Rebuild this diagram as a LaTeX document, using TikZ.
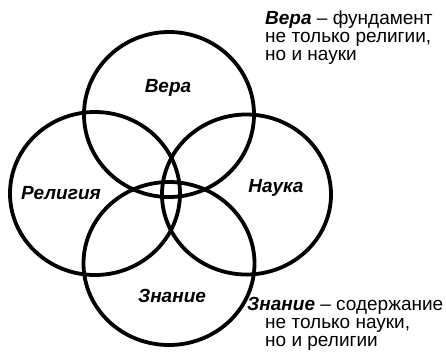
\documentclass[tikz,border=0pt]{standalone}
\usepackage{fontspec}
\setmainfont{Liberation Sans}
\begin{document}
\begin{tikzpicture}[x=1pt,y=-1pt,
  ring/.style={draw=black,line width=3.8pt},
  lbl/.style={font=\fontsize{19}{21}\selectfont\bfseries\itshape},
  note/.style={font=\fontsize{19}{20}\selectfont,anchor=base west,inner sep=0pt}]
\useasboundingbox (0,0) rectangle (446,351);
\draw[ring] (169,114.5) ellipse [x radius=85,y radius=82.5];
\draw[ring] (95,193.5) ellipse [x radius=85,y radius=81.5];
\draw[ring] (246.5,194.5) ellipse [x radius=84.5,y radius=80];
\draw[ring] (169,263.5) ellipse [x radius=85.5,y radius=81.5];
\node[lbl] (vera) at (168,88) {Вера};
\node[lbl] (rel) at (61,193) {Религия};
\node[lbl] (nauka) at (276,188) {Наука};
\node[lbl] (znanie) at (172,296) {Знание};
\node[note] (v1) at (265,24) {\textbf{\textit{Вера}} – фундамент};
\node[note] (v2) at (265,42) {не только религии,};
\node[note] (v3) at (265,60) {но и науки};
\node[note] (z1) at (247,310) {\textbf{\textit{Знание}} – содержание};
\node[note] (z2) at (265,328) {не только науки,};
\node[note] (z3) at (265,346) {но и религии};
\end{tikzpicture}
\end{document}
